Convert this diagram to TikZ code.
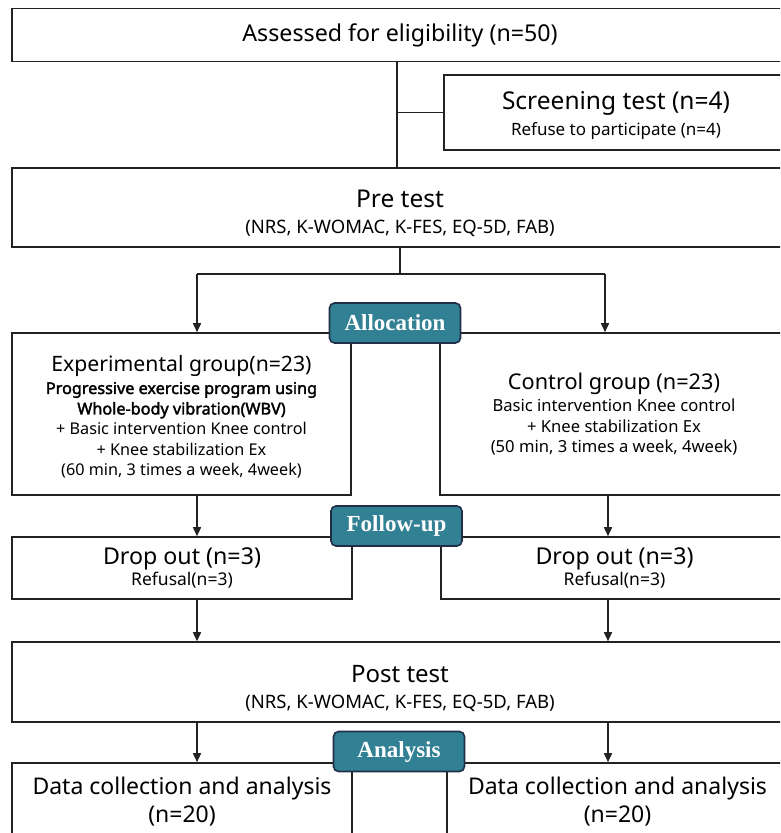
\documentclass[tikz,border=0pt]{standalone}
\usepackage{fontspec}
\setmainfont{Noto Sans}
\newfontfamily\bsans{Noto Sans}[FakeBold=2.2]
\newfontfamily\labfont{Liberation Serif}
\usetikzlibrary{arrows.meta}
\definecolor{tealfill}{RGB}{50,128,147}
\definecolor{navyedge}{RGB}{32,46,72}
\definecolor{linec}{RGB}{34,34,34}
\newcommand{\fsz}[2]{\fontsize{#1}{#2}\selectfont}
\begin{document}
\begin{tikzpicture}[x=1pt,y=-1pt,
  box/.style={draw=linec, line width=1.6pt, inner sep=0pt, align=center},
  lab/.style={draw=navyedge, fill=tealfill, line width=1.6pt, rounded corners=5pt,
    text=white, font=\labfont\bfseries\fsz{23}{26}, minimum width=131pt,
    minimum height=40pt, inner sep=0pt},
  arr/.style={draw=linec, line width=1.6pt, -{Triangle[length=9pt,width=8pt]}},
  ln/.style={draw=linec, line width=1.6pt}]
\useasboundingbox (0,0) rectangle (780,833);
\clip (0,0) rectangle (780,833);

% boxes
\node[box, minimum width=776pt, minimum height=53pt, font=\fsz{23.2}{26}] (elig) at (400,35)
  {Assessed for eligibility (n=50)};
\node[box, minimum width=344pt, minimum height=75pt, font=\fsz{17}{26}] (screen) at (616,112.5)
  {{\fsz{24.5}{26}\rule{0pt}{25pt}Screening test (n=4)}\\Refuse to participate (n=4)};
\node[box, minimum width=776pt, minimum height=79pt, font=\fsz{18.5}{26}] (pre) at (400,207.5)
  {{\fsz{24.5}{26}\rule{0pt}{30pt}Pre test}\\(NRS, K-WOMAC, K-FES, EQ-5D, FAB)};
\node[box, minimum width=339pt, minimum height=162pt, font=\fsz{16.2}{20.5}] (exp) at (181.5,414)
  {{\fsz{21.2}{24}\rule{0pt}{22pt}Experimental group(n=23)}\\[2pt]
   {\bsans Progressive exercise program using}\\
   {\bsans Whole-body vibration(WBV)}\\
   + Basic intervention Knee control\\
   + Knee stabilization Ex\\
   (60 min, 3 times a week, 4week)};
\node[box, minimum width=348pt, minimum height=162pt, font=\fsz{16.6}{20.5}] (ctl) at (614,414)
  {{\fsz{21.7}{24}Control group (n=23)}\\[2pt]
   Basic intervention Knee control\\
   + Knee stabilization Ex\\
   (50 min, 3 times a week, 4week)};
\node[box, minimum width=340pt, minimum height=62pt, font=\fsz{17.5}{21}] (dropl) at (182,568)
  {{\fsz{23.2}{26}Drop out (n=3)}\\Refusal(n=3)};
\node[box, minimum width=347pt, minimum height=62pt, font=\fsz{17.5}{21}] (dropr) at (614.5,568)
  {{\fsz{23.2}{26}Drop out (n=3)}\\Refusal(n=3)};
\node[box, minimum width=776pt, minimum height=80pt, font=\fsz{18.5}{26}] (post) at (400,682)
  {{\fsz{24}{26}\rule{0pt}{30pt}Post test}\\(NRS, K-WOMAC, K-FES, EQ-5D, FAB)};
\node[box, minimum width=340pt, minimum height=74pt, font=\fsz{23}{28.5}] (datal) at (182,800)
  {\rule{0pt}{21pt}Data collection and analysis\\(n=20)};
\node[box, minimum width=341pt, minimum height=74pt, font=\fsz{23}{28.5}] (datar) at (617.5,800)
  {\rule{0pt}{21pt}Data collection and analysis\\(n=20)};

% connectors
\coordinate (j1) at (397,112.5);
\draw[ln] (elig.south -| j1) -- (pre.north -| j1);
\draw[ln] (j1) -- (screen.west);

\coordinate (sp) at (400,274);
\coordinate (sl) at (197,274);
\coordinate (sr) at (605,274);
\draw[ln] (pre.south -| sp) -- (sp);
\draw[ln] (sl) -- (sr);
\draw[arr] (sl) -- (exp.north -| sl);
\draw[arr] (sr) -- (ctl.north -| sr);

\coordinate (cl) at (197,0);
\coordinate (cr) at (608,0);
\draw[arr] (exp.south -| cl) -- (dropl.north -| cl);
\draw[arr] (ctl.south -| cr) -- (dropr.north -| cr);
\draw[arr] (dropl.south -| cl) -- (post.north -| cl);
\draw[arr] (dropr.south -| cr) -- (post.north -| cr);
\draw[arr] (post.south -| cl) -- (datal.north -| cl);
\draw[arr] (post.south -| cr) -- (datar.north -| cr);

% stage labels
\node[lab] (alloc) at (395,323) {Allocation};
\node[lab] (follow) at (396.5,526) {Follow-up};
\node[lab] (anal) at (399,751.5) {Analysis};
\end{tikzpicture}
\end{document}
